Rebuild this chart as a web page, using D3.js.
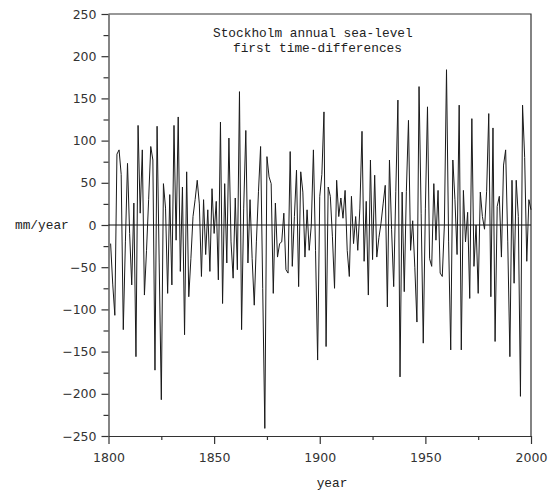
<!DOCTYPE html>
<html>
<head>
<meta charset="utf-8">
<script src="https://cdn.jsdelivr.net/npm/d3@7"></script>
<style>
  body { margin: 0; background: #fff; }
  .tick text { font-family: "DejaVu Sans", sans-serif; font-size: 12.5px; fill: #333; }
  .tick line, .domain { stroke: #333; stroke-width: 1.2; }
  .mono { font-family: "Liberation Mono", monospace; font-size: 12.8px; fill: #222; }
</style>
</head>
<body>
<div id="chart"></div>
<script>
// first differences of annual sea level, 1801-2000
const years = d3.range(1801, 2001);
const diffs = [
  -22, -70, -107, 84, 89, 60, -124, -20, 73, -10,
  -71, 26, -156, 118, 14, 89, -83, -30, 30, 93,
  77, -172, 117, -45, -207, 49, 20, -81, 36, -71,
  118, -18, 128, -55, 45, -130, 63, -85, -40, 10,
  30, 53, 25, -61, 30, -35, 18, -55, 43, -10,
  28, -65, 122, -93, 49, -45, 103, -20, -63, 32,
  -53, 158, -124, 20, 112, -45, 30, -40, -95, -20,
  40, 93, -75, -241, 81, 57, 49, -81, 26, -38,
  -22, -20, 14, -53, -57, 87, -49, 10, 65, -73,
  63, 39, -38, 18, -30, 0, 89, -30, -160, 34,
  60, 134, -144, 45, 34, -14, -75, 53, 10, 32,
  8, 41, -30, -61, 34, -22, 10, -30, 20, 111,
  -43, 28, -83, 77, -41, 59, -38, -15, 2, 25,
  47, -97, 77, -5, -73, 40, 148, -180, 39, -79,
  40, 124, -30, 5, -50, -115, 164, 14, -140, 20,
  140, -40, -49, 49, -18, 41, -57, -61, 0, 184,
  -20, -148, 77, 30, -35, 142, -148, 41, -20, 15,
  -87, 126, -49, 0, -81, 39, 10, -5, 40, 132,
  -85, 115, -138, 22, 34, -38, 71, 89, -20, -156,
  53, -69, 53, 10, -203, 142, 80, -43, 30, 18
];
const yMajor = d3.range(-250, 251, 50);
const yMinor = d3.range(-225, 250, 50);
const xMajor = [1800, 1850, 1900, 1950, 2000];
const xMinor = [1825, 1875, 1925, 1975];
const titleLines = ["Stockholm annual sea-level", "first time-differences"];

const data = years.map((yr, i) => ({ year: yr, value: diffs[i] }));

const svg = d3.select("#chart")
    .append("svg")
    .attr("width", 558)
    .attr("height", 491);

const x = d3.scaleLinear().domain([1800, 2000]).range([108.5, 531]);
const y = d3.scaleLinear().domain([-250, 250]).range([436, 14]);

// box (top and right sides)
svg.append("path")
    .attr("d", `M${x(1800)},${y(250)}H${x(2000)}V${y(-250)}`)
    .attr("fill", "none")
    .attr("stroke", "#333")
    .attr("stroke-width", 1.2);

// y axis
svg.append("g")
    .attr("transform", `translate(${x(1800)},0)`)
    .call(d3.axisLeft(y).tickValues(yMajor).tickSize(7).tickPadding(5).tickSizeOuter(0));

svg.append("g")
    .attr("transform", `translate(${x(1800)},0)`)
    .call(d3.axisLeft(y).tickValues(yMinor).tickSize(5).tickFormat(""))
    .call(g => g.select(".domain").remove());

// x axis
svg.append("g")
    .attr("transform", `translate(0,${y(-250)})`)
    .call(d3.axisBottom(x).tickValues(xMajor).tickFormat(d3.format("d")).tickSize(8).tickPadding(9).tickSizeOuter(0));

svg.append("g")
    .attr("transform", `translate(0,${y(-250)})`)
    .call(d3.axisBottom(x).tickValues(xMinor).tickSize(4).tickFormat(""))
    .call(g => g.select(".domain").remove());

// zero line
svg.append("line")
    .attr("x1", x(1800)).attr("x2", x(2000))
    .attr("y1", y(0)).attr("y2", y(0))
    .attr("stroke", "#111")
    .attr("stroke-width", 1);

// series
svg.append("path")
    .datum(data)
    .attr("fill", "none")
    .attr("stroke", "#1a1a1a")
    .attr("stroke-width", 1)
    .attr("d", d3.line().x(d => x(d.year)).y(d => y(d.value)));

// title
svg.append("text").attr("class", "mono").attr("x", 213).attr("y", 37).text(titleLines[0]);
svg.append("text").attr("class", "mono").attr("x", 233).attr("y", 51.5).text(titleLines[1]);

// axis labels
svg.append("text").attr("class", "mono").attr("x", 15).attr("y", 229).text("mm/year");
svg.append("text").attr("class", "mono").attr("x", 332).attr("y", 487)
    .attr("text-anchor", "middle").text("year");
</script>
</body>
</html>
